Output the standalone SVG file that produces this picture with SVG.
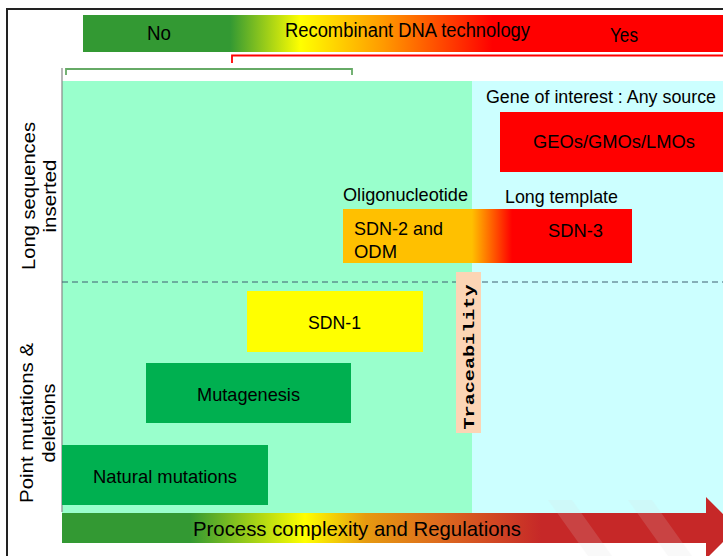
<svg xmlns="http://www.w3.org/2000/svg" width="723" height="556" viewBox="0 0 723 556">
<defs>
<linearGradient id="gTop" gradientUnits="userSpaceOnUse" x1="83" y1="0" x2="723" y2="0">
<stop offset="0" stop-color="#339933"/>
<stop offset="0.23" stop-color="#339933"/>
<stop offset="0.34" stop-color="#ffff00"/>
<stop offset="0.47" stop-color="#ff9900"/>
<stop offset="0.64" stop-color="#ff0000"/>
<stop offset="1" stop-color="#ff0000"/>
</linearGradient>
<linearGradient id="gArrow" gradientUnits="userSpaceOnUse" x1="62" y1="0" x2="737" y2="0">
<stop offset="0" stop-color="#339933"/>
<stop offset="0.19" stop-color="#339933"/>
<stop offset="0.36" stop-color="#ffff00"/>
<stop offset="0.45" stop-color="#e69a10"/>
<stop offset="0.56" stop-color="#dd6a1e"/>
<stop offset="0.71" stop-color="#c62828"/>
<stop offset="1" stop-color="#c62828"/>
</linearGradient>
<linearGradient id="gSdn" gradientUnits="userSpaceOnUse" x1="343" y1="0" x2="632" y2="0">
<stop offset="0" stop-color="#ffc000"/>
<stop offset="0.446" stop-color="#ffc000"/>
<stop offset="0.52" stop-color="#ff5a00"/>
<stop offset="0.585" stop-color="#ff0000"/>
<stop offset="1" stop-color="#ff0000"/>
</linearGradient>
</defs>
<style>
text{font-family:"Liberation Sans",Arial,sans-serif;fill:#000;}
.t17{font-size:18.5px;}
.t19{font-size:20px;}
.lbl{font-size:18px;}
.mono{font-family:"Liberation Mono","Courier New",monospace;font-size:15px;font-weight:bold;}
.box{stroke:none;}
</style>
<rect x="0" y="0" width="723" height="556" fill="#ffffff"/>
<!-- frame -->
<path d="M7 556 V9 H723" fill="none" stroke="#222" stroke-width="2"/>

<!-- background panels -->
<g id="panels">
<rect x="62" y="81" width="410" height="432" fill="#99ffcc"/>
<rect x="472" y="81" width="251" height="432" fill="#ccffff"/>
<line x1="62" y1="68" x2="62" y2="512" stroke="#888" stroke-width="1.2"/>
</g>

<!-- top bar -->
<g id="recombinant-bar">
<rect x="83" y="15" width="640" height="37" fill="url(#gTop)"/>
<text class="t19" x="147" y="40" textLength="24" lengthAdjust="spacingAndGlyphs">No</text>
<text class="t19" x="285" y="37" textLength="245" lengthAdjust="spacingAndGlyphs">Recombinant DNA technology</text>
<text class="t19" x="610" y="42" textLength="28" lengthAdjust="spacingAndGlyphs">Yes</text>
</g>

<!-- connectors: brackets, divider -->
<g id="connectors">
<path d="M232 63 V55.5 H723" fill="none" stroke="#ff0000" stroke-width="1.8"/>
<path d="M66 75 V69 H352 V75" fill="none" stroke="#66aa66" stroke-width="1.8"/>
<line x1="62" y1="282" x2="723" y2="282" stroke="#3f5f70" stroke-width="1" stroke-dasharray="6,4"/>
</g>

<!-- left axis labels -->
<g id="label-long">
<text class="lbl" transform="translate(35,196) rotate(-90)" text-anchor="middle" textLength="148" lengthAdjust="spacingAndGlyphs">Long sequences</text>
<text class="lbl" transform="translate(56,196) rotate(-90)" text-anchor="middle" textLength="73" lengthAdjust="spacingAndGlyphs">inserted</text>
</g>
<g id="label-point">
<text class="lbl" transform="translate(33,423) rotate(-90)" text-anchor="middle" textLength="160" lengthAdjust="spacingAndGlyphs">Point mutations &amp;</text>
<text class="lbl" transform="translate(55,423) rotate(-90)" text-anchor="middle" textLength="79" lengthAdjust="spacingAndGlyphs">deletions</text>
</g>

<!-- nodes -->
<g id="gene-of-interest">
<text style="font-size:17.5px" x="486" y="103" textLength="230" lengthAdjust="spacingAndGlyphs">Gene of interest : Any source</text>
</g>
<g id="geos">
<rect class="box" x="500" y="112" width="223" height="60" fill="#ff0000"/>
<text class="t17" x="533" y="148" textLength="162" lengthAdjust="spacingAndGlyphs">GEOs/GMOs/LMOs</text>
</g>
<g id="oligonucleotide">
<text class="t17" x="343" y="201" textLength="125" lengthAdjust="spacingAndGlyphs">Oligonucleotide</text>
</g>
<g id="long-template">
<text class="t17" x="505" y="203" textLength="113" lengthAdjust="spacingAndGlyphs">Long template</text>
</g>
<g id="sdn2-sdn3">
<rect class="box" x="343" y="209" width="289" height="54" fill="url(#gSdn)"/>
<text class="t17" x="354" y="235" textLength="89" lengthAdjust="spacingAndGlyphs">SDN-2 and</text>
<text class="t17" x="354" y="258" textLength="43" lengthAdjust="spacingAndGlyphs">ODM</text>
<text class="t17" x="548" y="237" textLength="55" lengthAdjust="spacingAndGlyphs">SDN-3</text>
</g>
<g id="traceability">
<rect class="box" x="456" y="272" width="25" height="161" fill="#fcd5b5"/>
<text class="mono" transform="translate(474,357) rotate(-90)" text-anchor="middle" textLength="145" lengthAdjust="spacingAndGlyphs">Traceability</text>
</g>
<g id="sdn1">
<rect class="box" x="247" y="291" width="176" height="61" fill="#ffff00"/>
<text class="t17" x="308" y="329" textLength="53" lengthAdjust="spacingAndGlyphs">SDN-1</text>
</g>
<g id="mutagenesis">
<rect class="box" x="146" y="363" width="205" height="60" fill="#00b050"/>
<text class="t17" x="197" y="401" textLength="103" lengthAdjust="spacingAndGlyphs">Mutagenesis</text>
</g>
<g id="natural-mutations">
<rect class="box" x="62" y="445" width="206" height="60" fill="#00b050"/>
<text class="t17" x="93" y="483" textLength="144" lengthAdjust="spacingAndGlyphs">Natural mutations</text>
</g>

<!-- big arrow -->
<g id="complexity-arrow">
<path d="M62 513 H706 V497 L737 528 L706 559 V543 H62 Z" fill="url(#gArrow)"/>
<text style="font-size:21px" x="193" y="536" textLength="328" lengthAdjust="spacingAndGlyphs">Process complexity and Regulations</text>
</g>

<!-- faint watermark strokes -->
<g opacity="0.15" fill="#dddddd">
<polygon points="548,500 572,500 612,556 588,556"/>
<polygon points="628,500 652,500 692,556 668,556"/>
</g>
</svg>
